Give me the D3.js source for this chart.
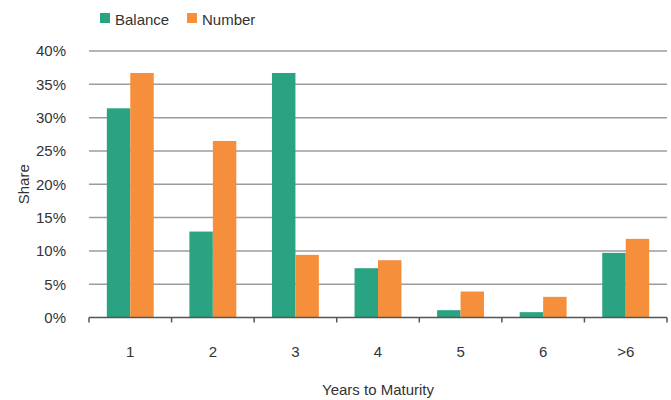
<!DOCTYPE html>
<html>
<head>
<meta charset="utf-8">
<script src="https://cdn.jsdelivr.net/npm/d3@7"></script>
<style>
  body { margin: 0; background: #fff; }
  text { font-family: "Liberation Sans", Arial, sans-serif; fill: #333; }
</style>
</head>
<body>
<svg id="chart" width="671" height="400"></svg>
<script>
// Share of loans by years to maturity
const categories = ["1", "2", "3", "4", "5", "6", ">6"];
const seriesNames = ["Balance", "Number"];
const balance = [31.4, 12.9, 36.7, 7.4, 1.1, 0.8, 9.7];
const number = [36.7, 26.5, 9.4, 8.6, 3.9, 3.1, 11.8];
const yTicks = [0, 5, 10, 15, 20, 25, 30, 35, 40];
const colors = ["#2aa382", "#f58f3c"];

const rows = categories.map((c, i) => ({ cat: c, values: [balance[i], number[i]] }));

const svg = d3.select("#chart");
const margin = { left: 89, right: 4, top: 51, bottom: 82.5 };
const W = 671, H = 400;

const x = d3.scaleBand().domain(categories).range([margin.left, W - margin.right]).paddingInner(0).paddingOuter(0);
const inner = d3.scaleBand().domain(seriesNames).range([0, x.bandwidth()]).paddingInner(0).paddingOuter(0.76);
const y = d3.scaleLinear().domain([0, 40]).range([H - margin.bottom, margin.top]);

// gridlines
svg.append("g")
  .selectAll("line")
  .data(yTicks.filter(t => t > 0))
  .join("line")
  .attr("x1", margin.left).attr("x2", W - margin.right)
  .attr("y1", d => y(d)).attr("y2", d => y(d))
  .attr("stroke", "#9a9c9e").attr("stroke-width", 1.5);

// y tick labels
svg.append("g")
  .selectAll("text")
  .data(yTicks)
  .join("text")
  .attr("x", 66).attr("y", d => y(d))
  .attr("dy", "0.36em")
  .attr("text-anchor", "end")
  .attr("font-size", 15)
  .text(d => d + "%");

// bars
const groups = svg.append("g")
  .selectAll("g")
  .data(rows)
  .join("g")
  .attr("transform", d => `translate(${x(d.cat)},0)`);

groups.selectAll("rect")
  .data(d => d.values.map((v, k) => ({ key: seriesNames[k], v, k })))
  .join("rect")
  .attr("x", d => inner(d.key))
  .attr("width", inner.bandwidth())
  .attr("y", d => y(d.v))
  .attr("height", d => y(0) - y(d.v))
  .attr("fill", d => colors[d.k]);

// x axis
const gx = svg.append("g").attr("transform", `translate(0,${y(0)})`);
gx.append("line")
  .attr("x1", margin.left).attr("x2", W - margin.right)
  .attr("stroke", "#555").attr("stroke-width", 1.5);
const edges = categories.map(c => x(c)).concat([x(categories[categories.length - 1]) + x.bandwidth()]);
gx.selectAll("line.tick")
  .data(edges)
  .join("line")
  .attr("class", "tick")
  .attr("x1", d => d).attr("x2", d => d)
  .attr("y1", 0).attr("y2", 5)
  .attr("stroke", "#555").attr("stroke-width", 1.5);
gx.selectAll("text.lbl")
  .data(categories)
  .join("text")
  .attr("class", "lbl")
  .attr("x", d => x(d) + x.bandwidth() / 2)
  .attr("y", 357 - y(0))
  .attr("text-anchor", "middle")
  .attr("font-size", 15)
  .text(d => d);

// axis titles
svg.append("text")
  .attr("x", (margin.left + W - margin.right) / 2)
  .attr("y", 395)
  .attr("text-anchor", "middle")
  .attr("font-size", 15)
  .text("Years to Maturity");

svg.append("text")
  .attr("transform", `translate(29,${(y(0) + y(40)) / 2}) rotate(-90)`)
  .attr("text-anchor", "middle")
  .attr("font-size", 15)
  .text("Share");

// legend
const legend = svg.append("g");
const legendX = [100, 187];
seriesNames.forEach((name, k) => {
  legend.append("rect")
    .attr("x", legendX[k]).attr("y", 13)
    .attr("width", 10).attr("height", 10)
    .attr("fill", colors[k]);
  legend.append("text")
    .attr("x", legendX[k] + 15).attr("y", 25)
    .attr("font-size", 15)
    .text(name);
});
</script>
</body>
</html>
